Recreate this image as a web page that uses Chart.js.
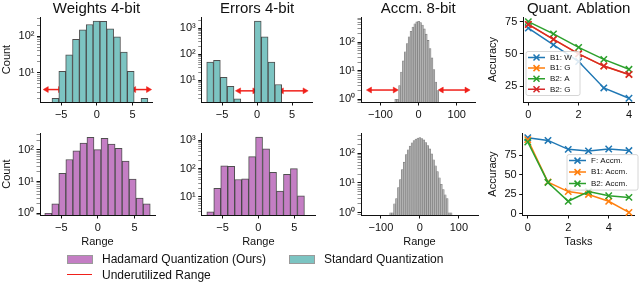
<!DOCTYPE html>
<html>
<head>
<meta charset="utf-8">
<script src="https://cdn.jsdelivr.net/npm/chart.js@4.4.1/dist/chart.umd.min.js"></script>
<style>
  body { margin: 0; width: 640px; height: 282px; position: relative; overflow: hidden; background: #fff;
         font-family: "Liberation Sans", Arial, sans-serif; }
  canvas { position: absolute; }
  .leg { position: absolute; font-size: 12px; line-height: 14px; color: #111; white-space: nowrap; }
  .sw { position: absolute; width: 24px; height: 7px; border: 1px solid #9a9a9a; }
  .ln { position: absolute; width: 25px; height: 0; border-top: 1.6px solid #f0201a; }
</style>
</head>
<body>
<canvas id="wTop" width="157" height="124" style="left:0;top:0"></canvas>
<canvas id="eTop" width="147" height="124" style="left:170px;top:0"></canvas>
<canvas id="aTop" width="150" height="124" style="left:330px;top:0"></canvas>
<canvas id="qTop" width="154" height="124" style="left:486px;top:0"></canvas>
<canvas id="wBot" width="157" height="130" style="left:0;top:124px"></canvas>
<canvas id="eBot" width="147" height="130" style="left:170px;top:124px"></canvas>
<canvas id="aBot" width="150" height="130" style="left:330px;top:124px"></canvas>
<canvas id="qBot" width="154" height="130" style="left:486px;top:124px"></canvas>

<div class="sw" style="left:67px;top:255px;background:#c47ec4"></div>
<div class="leg" style="left:102px;top:252px">Hadamard Quantization (Ours)</div>
<div class="sw" style="left:289px;top:255px;background:#7cc4c2"></div>
<div class="leg" style="left:324px;top:252px">Standard Quantization</div>
<div class="ln" style="left:67px;top:274px"></div>
<div class="leg" style="left:102px;top:268px">Underutilized Range</div>

<script>
// ---- data ----
const weightBins = [-6.77, -5.81, -4.85, -3.89, -2.93, -1.97, -1.01, -0.05, 0.91, 1.87, 2.83, 3.79, 4.75, 5.71, 6.67];
const weightStd = [null, 2, 11, 31, 83, 150, 210, 260, 255, 160, 96, 37, 11, null, 2];
const weightHad = [1, 2, 18, 49, 91, 160, 245, 100, 225, 150, 110, 44, 12, 3, 2];

const errorBins = [-6.70, -5.73, -4.76, -3.78, -2.81, -1.84, -0.87, 0.10, 1.08, 2.05, 3.02, 3.99, 4.96, 5.94];
const errorStd = [50, 58, 13, 6, 2, null, null, 1850, 460, 50, 7, null, null, null];
const errorHad = [3, 20, 126, 120, 41, 43, 265, 1300, 495, 73, 16, 62, 100, 11];

const accmBins = [-75, -70, -65, -60, -55, -50, -45, -40, -35, -30, -25, -20, -15, -10, -5, 0,
                  5, 10, 15, 20, 25, 30, 35, 40, 45, 50, 55, 60, 65, 70, 75, 80];
const accmTop = [null, null, null, 1, 1, 3, 9, 22, 46, 89, 154, 240, 340, 440, 510, 540,
                 480, 400, 290, 190, 115, 60, 28, 11, 4, 2, null, null, null, null, null, null];
const accmBot = [1, 1, 2, 3, 7, 13, 28, 50, 90, 130, 175, 225, 265, 300, 325, 335,
                 310, 280, 230, 180, 140, 95, 60, 38, 24, 15, 9, 6, 4, 3, 1, 1];

const weightArrows = [[-7.05, -5.14], [5.2, 7.2]];
const errorArrows = [[-2.6, -0.36], [3.5, 6.8]];
const accmArrows = [[-128, -62], [60, 126]];

const tasksTop = [0, 1, 2, 3, 4];
const b1W = [70, 57, 44, 23.5, 15.5];
const b1G = [72.8, 61.3, 50, 40.5, 34];
const b2A = [75, 65.5, 55, 45.7, 38];
const b2G = [72.8, 61.3, 50, 40.5, 34];

const tasksBot = [0, 1, 2, 3, 4, 5];
const fAccm = [97.5, 94, 82.5, 80.5, 83, 81];
const b1Accm = [95, 40.5, 28.3, 24.6, 15.8, 1.5];
const b2Accm = [92, 40, 15.8, 28.3, 22.9, 20.8];

const rangeTicks = [-5, 0, 5];
const accmTicks = [-100, 0, 100];
const taskTicks = [0, 2, 4];
const accTopTicks = [25, 50, 75];
const accBotTicks = [0, 25, 50, 75];
const logTicks = [1, 10, 100, 1000];
const logTickLabels = ["10\u2070", "10\u00b9", "10\u00b2", "10\u00b3"];

const TEAL = "#7cc4c2";
const PURPLE = "#c47ec4";
const RED = "#f0201a";
const FONT = '"Liberation Sans", Arial, sans-serif';

Chart.defaults.font.family = FONT;
Chart.defaults.color = "#111";
Chart.defaults.animation = false;

const minus = (v) => (v < 0 ? "\u2212" + Math.abs(v) : String(v));

const insetLegend = {
  id: "insetLegend",
  afterDatasetsDraw(chart, args, opts) {
    if (!opts.box) return;
    const { ctx, chartArea } = chart;
    const [bx, by, bw, bh] = opts.box;
    const x = chartArea.left + bx;
    const y = chartArea.top + by;
    ctx.save();
    ctx.fillStyle = "rgba(255,255,255,0.85)";
    ctx.strokeStyle = "#cccccc";
    ctx.lineWidth = 0.8;
    ctx.beginPath();
    ctx.roundRect(x, y, bw, bh, 2);
    ctx.fill();
    ctx.stroke();
    ctx.font = "8px " + FONT;
    ctx.textBaseline = "middle";
    chart.data.datasets.forEach((ds, i) => {
      const ry = y + opts.firstRow + i * opts.rowStep;
      ctx.strokeStyle = ds.borderColor;
      ctx.lineWidth = 1.5;
      ctx.beginPath();
      ctx.moveTo(x + 2, ry);
      ctx.lineTo(x + 19, ry);
      const cx = x + 10.5, r = 3;
      ctx.moveTo(cx - r, ry - r);
      ctx.lineTo(cx + r, ry + r);
      ctx.moveTo(cx - r, ry + r);
      ctx.lineTo(cx + r, ry - r);
      ctx.stroke();
      ctx.fillStyle = "#111";
      ctx.fillText(ds.label, x + 24, ry);
    });
    ctx.restore();
  },
};

const axisTitle = (text, bottom) => ({
  display: !!text,
  text: text || "",
  font: { size: 11 },
  padding: bottom ? { top: 0, bottom: 5.4 } : { top: 0, bottom: 0 },
});

const titleOpts = (text) => ({
  display: !!text,
  text: text || "",
  fullSize: false,
  font: { size: 15, weight: "normal", lineHeight: 1.1 },
  padding: { top: 0.5, bottom: 0 },
  color: "#111",
});

function histChart(id, cfg) {
  const datasets = [
    {
      type: "bar",
      data: cfg.bins.map((b, i) => ({ x: b, y: cfg.counts[i] })),
      backgroundColor: cfg.color,
      borderColor: cfg.edge || "rgba(60,60,60,0.9)",
      borderWidth: cfg.edgeWidth || 1,
      barPercentage: 1,
      categoryPercentage: 1,
    },
  ];
  for (const a of cfg.arrows || []) {
    datasets.push({
      type: "line",
      data: a.map((v) => ({ x: v, y: cfg.arrowY })),
      borderColor: RED,
      backgroundColor: RED,
      borderWidth: 1.5,
      pointStyle: "triangle",
      pointRadius: 3.4,
      pointBorderWidth: 0.5,
      pointRotation: (c) => (c.dataIndex === 0 ? -90 : 90),
      clip: false,
    });
  }
  return new Chart(document.getElementById(id), {
    type: "bar",
    data: { datasets },
    options: {
      responsive: false,
      devicePixelRatio: 1,
      layout: { padding: { top: cfg.padTop || 0, right: 2, bottom: 0, left: 0 } },
      plugins: { legend: { display: false }, tooltip: { enabled: false }, title: titleOpts(cfg.title) },
      scales: {
        x: {
          type: "linear",
          min: cfg.xMin,
          max: cfg.xMax,
          offset: false,
          grid: { display: true, drawOnChartArea: false, offset: false, tickLength: 3.5, tickColor: "#111" },
          border: { color: "#111", width: 1 },
          ticks: { autoSkip: false, maxRotation: 0, padding: 3, font: { size: 11 }, callback: minus },
          afterBuildTicks: (s) => { s.ticks = cfg.xTicks.map((v) => ({ value: v })); },
          afterFit: (s) => { s.height = cfg.xH; },
          title: axisTitle(cfg.xTitle, true),
        },
        y: {
          type: "logarithmic",
          min: cfg.yMin,
          max: cfg.yMax,
          grid: {
            display: true,
            drawOnChartArea: false,
            tickLength: 3.5,
            tickColor: (c) => (c.tick && logTicks.includes(c.tick.value) ? "#111" : "#444"),
            tickWidth: (c) => (c.tick && logTicks.includes(c.tick.value) ? 1 : 0.6),
          },
          border: { color: "#111", width: 1 },
          ticks: {
            autoSkip: false,
            padding: 2.5,
            font: { size: 11 },
            callback: (v) => {
              const i = logTicks.indexOf(v);
              return i >= 0 ? logTickLabels[i] : "";
            },
          },
          afterBuildTicks: (s) => {
            const out = [];
            for (const d of [0.1, 1, 10, 100, 1000]) {
              for (let k = 1; k <= 9; k++) {
                const v = Math.round(d * k * 10) / 10;
                if (v >= s.min && v <= s.max) out.push({ value: v });
              }
            }
            s.ticks = out;
          },
          afterFit: (s) => { s.width = cfg.yW; },
          title: axisTitle(cfg.yTitle, false),
        },
      },
    },
  });
}

function lineChart(id, cfg) {
  const datasets = cfg.series.map((s) => ({
    label: s.label,
    data: cfg.xs.map((x, i) => ({ x, y: s.values[i] })),
    borderColor: s.color,
    backgroundColor: s.color,
    borderWidth: 1.5,
    tension: 0,
    pointStyle: "crossRot",
    pointRadius: 4.5,
    pointBorderWidth: 1.5,
    pointBorderColor: s.color,
    order: s.order,
    clip: false,
  }));
  return new Chart(document.getElementById(id), {
    type: "line",
    data: { datasets },
    plugins: [insetLegend],
    options: {
      responsive: false,
      devicePixelRatio: 1,
      layout: { padding: { top: cfg.padTop || 0, right: cfg.padRight, bottom: 0, left: 0 } },
      plugins: {
        legend: { display: false },
        tooltip: { enabled: false },
        title: titleOpts(cfg.title),
        insetLegend: cfg.legend,
      },
      scales: {
        x: {
          type: "linear",
          min: cfg.xMin,
          max: cfg.xMax,
          grid: { display: true, drawOnChartArea: false, tickLength: 3.5, tickColor: "#111" },
          border: { color: "#111", width: 1 },
          ticks: { autoSkip: false, maxRotation: 0, padding: 3, font: { size: 11 } },
          afterBuildTicks: (s) => { s.ticks = taskTicks.map((v) => ({ value: v })); },
          afterFit: (s) => { s.height = cfg.xH; },
          title: axisTitle(cfg.xTitle, true),
        },
        y: {
          min: cfg.yMin,
          max: cfg.yMax,
          grid: { display: true, drawOnChartArea: false, tickLength: 3.5, tickColor: "#111" },
          border: { color: "#111", width: 1 },
          ticks: { autoSkip: false, padding: 2.5, font: { size: 11 } },
          afterBuildTicks: (s) => { s.ticks = cfg.yTicks.map((v) => ({ value: v })); },
          afterFit: (s) => { s.width = cfg.yW; },
          title: axisTitle("Accuracy", false),
        },
      },
    },
  });
}

// ---- top row: standard quantization ----
histChart("wTop", {
  title: "Weights 4-bit", yTitle: "Count", bins: weightBins, counts: weightStd, color: TEAL,
  xMin: -7.9, xMax: 7.8, xTicks: rangeTicks, yMin: 1.6, yMax: 336, yW: 40.5, xH: 22,
  arrows: weightArrows, arrowY: 3.5,
});
histChart("eTop", {
  title: "Errors 4-bit", bins: errorBins, counts: errorStd, color: TEAL,
  xMin: -7.9, xMax: 7.9, xTicks: rangeTicks, yMin: 1.5, yMax: 2650, yW: 31.7, xH: 22,
  arrows: errorArrows, arrowY: 4,
});
histChart("aTop", {
  title: "Accm. 8-bit", bins: accmBins, counts: accmTop, color: "#b2b2b2", edge: "#7a7a7a", edgeWidth: 0.6,
  xMin: -151, xMax: 149, xTicks: accmTicks, yMin: 0.8, yMax: 760, yW: 31, xH: 22,
  arrows: accmArrows, arrowY: 2.1,
});
lineChart("qTop", {
  title: "Quant. Ablation", xs: tasksTop, xMin: -0.2, xMax: 4.2, yMin: 12.6, yMax: 78.6,
  yTicks: accTopTicks, yW: 37.3, xH: 22, padRight: 1.5,
  series: [
    { label: "B1: W", values: b1W, color: "#1f77b4", order: 4 },
    { label: "B1: G", values: b1G, color: "#ff7f0e", order: 3 },
    { label: "B2: A", values: b2A, color: "#2ca02c", order: 2 },
    { label: "B2: G", values: b2G, color: "#d62728", order: 1 },
  ],
  legend: { box: [2.7, 34.5, 54, 44], firstRow: 6, rowStep: 10.6 },
});

// ---- bottom row: hadamard quantization ----
histChart("wBot", {
  yTitle: "Count", xTitle: "Range", bins: weightBins, counts: weightHad, color: PURPLE,
  xMin: -7.9, xMax: 7.8, xTicks: rangeTicks, yMin: 0.89, yMax: 330, yW: 40, xH: 39, padTop: 7.5,
});
histChart("eBot", {
  xTitle: "Range", bins: errorBins, counts: errorHad, color: PURPLE,
  xMin: -7.9, xMax: 7.9, xTicks: rangeTicks, yMin: 2.3, yMax: 1780, yW: 31.7, xH: 39, padTop: 7.5,
});
histChart("aBot", {
  xTitle: "Range", bins: accmBins, counts: accmBot, color: "#b2b2b2", edge: "#7a7a7a", edgeWidth: 0.6,
  xMin: -151, xMax: 149, xTicks: accmTicks, yMin: 0.84, yMax: 475, yW: 31, xH: 39, padTop: 7.5,
});
lineChart("qBot", {
  xTitle: "Tasks", xs: tasksBot, xMin: -0.25, xMax: 5.25, yMin: -1.8, yMax: 103.4,
  yTicks: accBotTicks, yW: 36.7, xH: 39, padRight: 1.4, padTop: 7.5,
  series: [
    { label: "F: Accm.", values: fAccm, color: "#1f77b4", order: 3 },
    { label: "B1: Accm.", values: b1Accm, color: "#ff7f0e", order: 2 },
    { label: "B2: Accm.", values: b2Accm, color: "#2ca02c", order: 1 },
  ],
  legend: { box: [44.3, 21.5, 71, 35.5], firstRow: 6, rowStep: 11.5 },
});
</script>
</body>
</html>
